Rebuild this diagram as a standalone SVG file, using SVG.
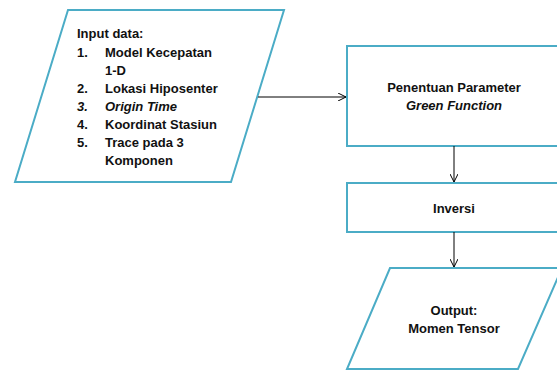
<svg xmlns="http://www.w3.org/2000/svg" width="557" height="370" viewBox="0 0 557 370">
<style>
.shape{fill:#fff;stroke:#4bacc6;stroke-width:2}
.t{font-family:"Liberation Sans",Arial,sans-serif;font-size:13px;font-weight:bold;fill:#111}
.c{text-anchor:middle}
.i{font-style:italic}
.conn{stroke:#000;stroke-width:1;fill:none}
</style>
<defs>
<marker id="ah" viewBox="0 0 8 8" refX="8" refY="4" markerWidth="8" markerHeight="8" markerUnits="userSpaceOnUse" orient="auto">
<path d="M0,0 L8,4 L0,8" fill="none" stroke="#000" stroke-width="1"/>
</marker>
</defs>
<rect width="557" height="370" fill="#fff"/>
<g id="input">
<polygon class="shape" points="68,10 284,10 231,182 15,182"/>
<text class="t" x="77" y="38">Input data:</text>
<text class="t" x="77" y="57">1.</text><text class="t" x="105" y="57">Model Kecepatan</text>
<text class="t" x="105" y="75">1-D</text>
<text class="t" x="77" y="93">2.</text><text class="t" x="105" y="93">Lokasi Hiposenter</text>
<text class="t i" x="77" y="111">3.</text><text class="t i" x="105" y="111">Origin Time</text>
<text class="t" x="77" y="129">4.</text><text class="t" x="105" y="129">Koordinat Stasiun</text>
<text class="t" x="77" y="147">5.</text><text class="t" x="105" y="147">Trace pada 3</text>
<text class="t" x="105" y="165">Komponen</text>
</g>
<g id="green">
<rect class="shape" x="347" y="46" width="215" height="100"/>
<text class="t c" x="454" y="92">Penentuan Parameter</text>
<text class="t c i" x="454" y="110">Green Function</text>
</g>
<g id="inversi">
<rect class="shape" x="347" y="183" width="215" height="49"/>
<text class="t c" x="454" y="213">Inversi</text>
</g>
<g id="output">
<polygon class="shape" points="390,268 562,268 518,369 347,369"/>
<text class="t c" x="454" y="315">Output:</text>
<text class="t c" x="454" y="333">Momen Tensor</text>
</g>
<g id="connectors">
<line class="conn" x1="258" y1="97" x2="346" y2="97" marker-end="url(#ah)"/>
<line class="conn" x1="454" y1="146" x2="454" y2="182" marker-end="url(#ah)"/>
<line class="conn" x1="454" y1="232" x2="454" y2="267" marker-end="url(#ah)"/>
</g>
</svg>
